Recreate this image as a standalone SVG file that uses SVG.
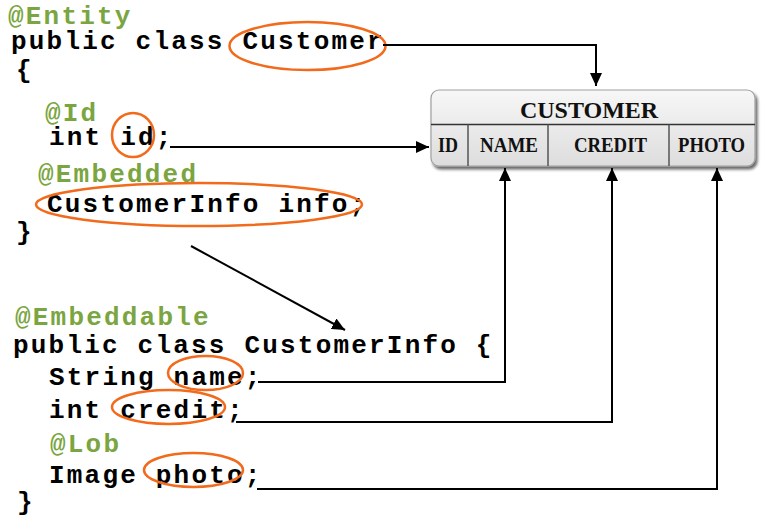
<svg xmlns="http://www.w3.org/2000/svg" width="767" height="523" viewBox="0 0 767 523">
<style>
.code{font-family:"Liberation Mono","Courier New",monospace;font-weight:bold;font-size:26px;letter-spacing:2.2px;fill:#000}
.ann{font-family:"Liberation Mono","Courier New",monospace;font-weight:bold;font-size:26px;letter-spacing:2.2px;fill:#7AA540}
.ring{fill:none;stroke:#F26A1B;stroke-width:2.5}
.conn{fill:none;stroke:#000;stroke-width:2}
.th{font-family:"Liberation Serif","Times New Roman",serif;font-weight:bold;fill:#111;text-anchor:middle}
</style>
<defs>
<marker id="arr" markerUnits="userSpaceOnUse" markerWidth="14" markerHeight="12" refX="13" refY="6" orient="auto">
<path d="M0,0 L13,6 L0,12 Z" fill="#000"/>
</marker>
<linearGradient id="tg" x1="0" y1="0" x2="0" y2="1">
<stop offset="0" stop-color="#F7F7F7"/>
<stop offset="0.5" stop-color="#EAEAEA"/>
<stop offset="1" stop-color="#DDDDDD"/>
</linearGradient>
<filter id="sh" x="-5%" y="-10%" width="115%" height="130%">
<feGaussianBlur in="SourceAlpha" stdDeviation="1.5"/>
<feOffset dx="1.5" dy="2.5" result="o"/>
<feComponentTransfer><feFuncA type="linear" slope="0.6"/></feComponentTransfer>
<feMerge><feMergeNode/><feMergeNode in="SourceGraphic"/></feMerge>
</filter>
</defs>

<g id="customer-class">
<text class="ann" x="8" y="24">@Entity</text>
<text class="code" x="11" y="49">public class Customer</text>
<text class="code" x="16" y="78">{</text>
<text class="ann" x="45" y="121">@Id</text>
<text class="code" x="49" y="145">int id;</text>
<text class="ann" x="38" y="182">@Embedded</text>
<text class="code" x="47" y="212">CustomerInfo info;</text>
<text class="code" x="16" y="240">}</text>
<ellipse class="ring" cx="307.5" cy="46" rx="78" ry="24"/>
<ellipse class="ring" cx="133" cy="135" rx="21" ry="22"/>
<ellipse class="ring" cx="199" cy="204.5" rx="163" ry="21.5"/>
</g>

<g id="customerinfo-class">
<text class="ann" x="15" y="325">@Embeddable</text>
<text class="code" x="13" y="353">public class CustomerInfo {</text>
<text class="code" x="49" y="385">String name;</text>
<text class="code" x="49" y="418">int credit;</text>
<text class="ann" x="50" y="452">@Lob</text>
<text class="code" x="49" y="483">Image photo;</text>
<text class="code" x="17" y="510">}</text>
<ellipse class="ring" cx="205.5" cy="373" rx="37.5" ry="17"/>
<ellipse class="ring" cx="168.5" cy="407" rx="56.5" ry="17"/>
<ellipse class="ring" cx="193.5" cy="470" rx="49.5" ry="17"/>
</g>

<g id="customer-table">
<rect x="431" y="90" width="324" height="76" rx="8" ry="8" fill="url(#tg)" stroke="#A0A0A0" stroke-width="1.2" filter="url(#sh)"/>
<line x1="431" y1="124.5" x2="755" y2="124.5" stroke="#333" stroke-width="1.5"/>
<line x1="468" y1="124.5" x2="468" y2="166" stroke="#555" stroke-width="1.5"/>
<line x1="548" y1="124.5" x2="548" y2="166" stroke="#555" stroke-width="1.5"/>
<line x1="669" y1="124.5" x2="669" y2="166" stroke="#555" stroke-width="1.5"/>
<text class="th" x="589" y="118" font-size="24">CUSTOMER</text>
<text class="th" x="448" y="152" font-size="20" textLength="20" lengthAdjust="spacingAndGlyphs">ID</text>
<text class="th" x="509" y="152" font-size="20" textLength="58" lengthAdjust="spacingAndGlyphs">NAME</text>
<text class="th" x="610.5" y="152" font-size="20" textLength="73" lengthAdjust="spacingAndGlyphs">CREDIT</text>
<text class="th" x="711.5" y="152" font-size="20" textLength="67" lengthAdjust="spacingAndGlyphs">PHOTO</text>
</g>

<g id="connectors">
<path class="conn" d="M383,45 H596 V86" marker-end="url(#arr)"/>
<path class="conn" d="M170,147 H429" marker-end="url(#arr)"/>
<path class="conn" d="M191,246 L345,330" marker-end="url(#arr)"/>
<path class="conn" d="M258,382 H505 V168" marker-end="url(#arr)"/>
<path class="conn" d="M236,422 H612 V168" marker-end="url(#arr)"/>
<path class="conn" d="M257,489 H717 V168" marker-end="url(#arr)"/>
</g>
</svg>
